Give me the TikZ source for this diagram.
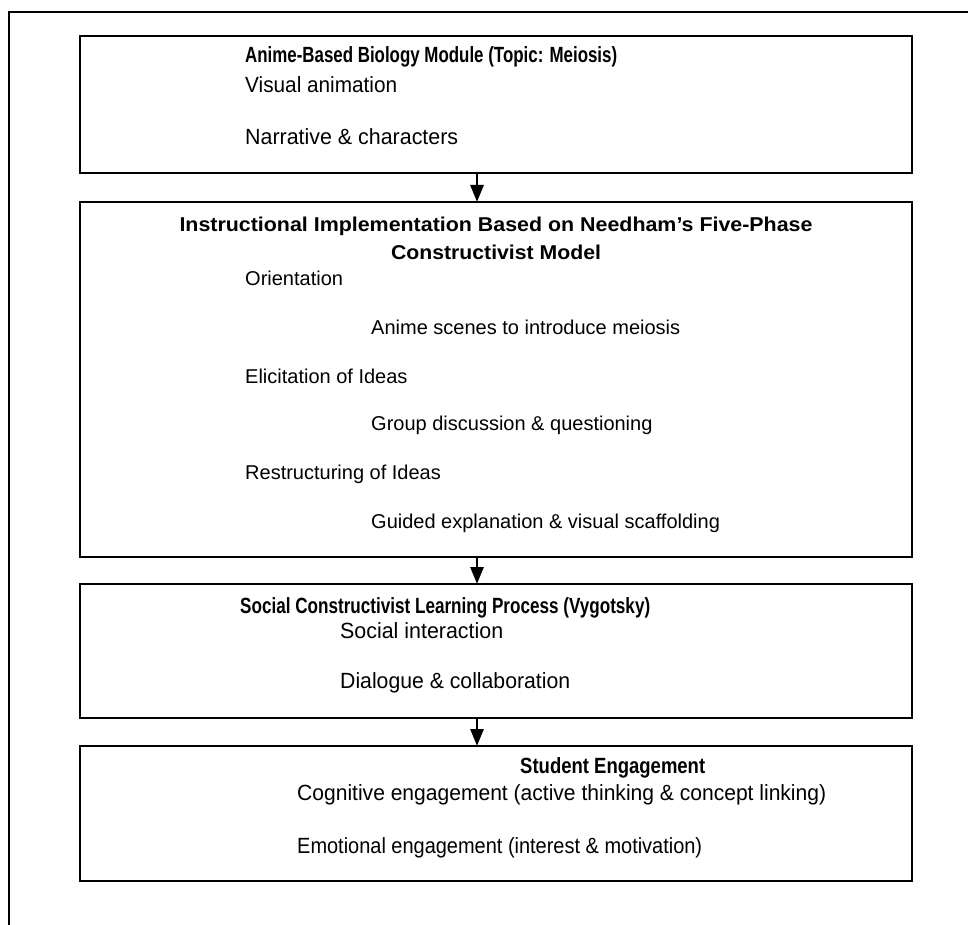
\documentclass[tikz,border=0pt]{standalone}
\usepackage{fontspec}
\setmainfont{Liberation Sans}
\usetikzlibrary{arrows.meta}
\newsavebox\fitbox
\newcommand\fitw[2]{\sbox\fitbox{#2}\pgfmathsetmacro\fitr{#1/\the\wd\fitbox}\scalebox{\fitr}[1]{\usebox\fitbox}}
\tikzset{
  box/.style={draw, line width=2.8pt, inner sep=0pt, outer sep=0pt, anchor=north west},
  arr/.style={line width=2.8pt, -{Triangle[width=13pt,length=17pt]}},
  wide/.style={inner sep=0pt, anchor=west, font=\fontsize{20}{24}\selectfont},
  narrow/.style={inner sep=0pt, anchor=west, font=\fontsize{22}{26}\selectfont},
  frame/.style={line width=2.5pt}
}
\begin{document}
\begin{tikzpicture}[x=1pt,y=-1pt]
\useasboundingbox (0,0) rectangle (968,925);
\draw[frame] (9,925) -- (9,12) -- (968,12);
% boxes
\node[box, minimum width=832, minimum height=137] (b1) at (80,36) {};
\node[box, minimum width=832, minimum height=355] (b2) at (80,202) {};
\node[box, minimum width=832, minimum height=134] (b3) at (80,584) {};
\node[box, minimum width=832, minimum height=135] (b4) at (80,746) {};
% arrows
\draw[arr] (477,0 |- b1.south) -- (477,0 |- b2.north);
\draw[arr] (477,0 |- b2.south) -- (477,0 |- b3.north);
\draw[arr] (477,0 |- b3.south) -- (477,0 |- b4.north);
% box 1
\node[narrow] (t11) at (245,57) {\fitw{372}{\bfseries Anime-Based Biology Module (Topic: Meiosis)}};
\node[narrow] (t12) at (245,85) {\fitw{152}{Visual animation}};
\node[narrow] (t13) at (245,137) {\fitw{213}{Narrative \& characters}};
% box 2
\node[wide, anchor=center] (t21) at (496,226) {\fitw{633}{\bfseries Instructional Implementation Based on Needham’s Five-Phase}};
\node[wide, anchor=center] (t22) at (496,252) {\fitw{210}{\bfseries Constructivist Model}};
\node[wide] (t23) at (245,278) {Orientation};
\node[wide] (t24) at (371,327) {Anime scenes to introduce meiosis};
\node[wide] (t25) at (245,376) {Elicitation of Ideas};
\node[wide] (t26) at (371,425) {Group discussion \& questioning};
\node[wide] (t27) at (245,474) {Restructuring of Ideas};
\node[wide] (t28) at (371,523) {Guided explanation \& visual scaffolding};
% box 3
\node[narrow] (t31) at (240,608) {\fitw{410}{\bfseries Social Constructivist Learning Process (Vygotsky)}};
\node[narrow] (t32) at (340,631) {\fitw{163}{Social interaction}};
\node[narrow] (t33) at (340,683) {\fitw{230}{Dialogue \& collaboration}};
% box 4
\node[narrow] (t41) at (520,768) {\fitw{185}{\bfseries Student Engagement}};
\node[narrow] (t42) at (297,795) {\fitw{529}{Cognitive engagement (active thinking \& concept linking)}};
\node[narrow] (t43) at (297,848) {\fitw{405}{Emotional engagement (interest \& motivation)}};
\end{tikzpicture}
\end{document}
